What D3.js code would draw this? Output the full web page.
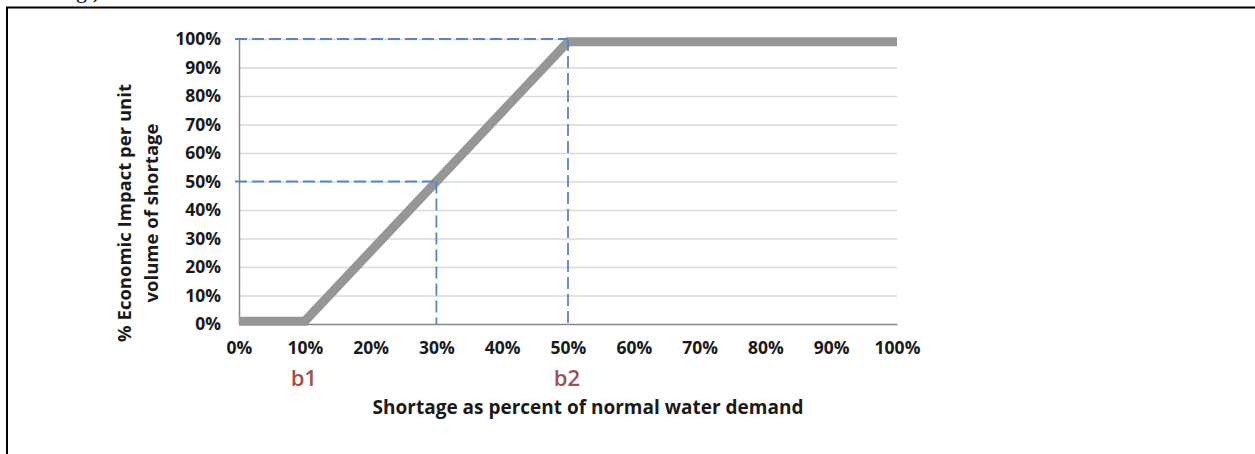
<!DOCTYPE html>
<html>
<head>
<meta charset="utf-8">
<script src="https://cdn.jsdelivr.net/npm/d3@7"></script>
<style>
  body { margin: 0; background: #fff; }
  .tick text { font-family: "Open Sans", sans-serif; font-weight: bold; font-size: 17.5px; fill: #1a1a1a; }
  .grid line { stroke: #d9d9d9; stroke-width: 1.5; }
  .grid path { display: none; }
</style>
</head>
<body>
<div id="chart"></div>
<script>
/* CONSTANTS */
const width = 1255,
  height = 454;

/* DATA */
const shortagePct = [0, 10, 50, 100];   // x of the impact curve
const impactPct = [1, 1, 99, 99];       // y of the impact curve
const xTicks = [0, 10, 20, 30, 40, 50, 60, 70, 80, 90, 100];
const yTicks = [0, 10, 20, 30, 40, 50, 60, 70, 80, 90, 100];
const breakNames = ["b1", "b2"];
const breakPct = [10, 50];
const guideX = [30, 50];   // dashed guide: shortage
const guideY = [50, 100];  // dashed guide: impact

const pct = d => d + "%";

/* SCALES */
const xScale = d3.scaleLinear().domain([0, 100]).range([239, 897]);
const yScale = d3.scaleLinear().domain([0, 100]).range([324, 39]);

const svg = d3.select("#chart")
  .append("svg")
  .attr("width", width)
  .attr("height", height);

// frame and the cut-off caption above it
svg.append("text")
  .attr("x", 76)
  .attr("y", -2)
  .attr("font-family", "Liberation Serif, serif")
  .attr("font-size", 22)
  .text("g )");

svg.append("rect")
  .attr("x", 7)
  .attr("y", 7.5)
  .attr("width", width + 20)
  .attr("height", height + 20)
  .attr("fill", "none")
  .attr("stroke", "#000")
  .attr("stroke-width", 2);

// gridlines
svg.append("g")
  .attr("class", "grid")
  .attr("transform", `translate(${xScale(0)},0)`)
  .call(d3.axisLeft(yScale)
    .tickValues(yTicks.slice(1))
    .tickSize(-(xScale(100) - xScale(0)))
    .tickFormat(""));

// axes
const xAxis = svg.append("g")
  .attr("transform", `translate(0,${yScale(0)})`)
  .call(d3.axisBottom(xScale).tickValues(xTicks).tickSize(0).tickPadding(18).tickFormat(pct));
xAxis.select(".domain").attr("stroke", "#868686").attr("stroke-width", 1.5);

const yAxis = svg.append("g")
  .attr("transform", `translate(${xScale(0)},0)`)
  .call(d3.axisLeft(yScale).tickValues(yTicks).tickSize(0).tickPadding(18).tickFormat(pct));
yAxis.select(".domain").attr("stroke", "#868686").attr("stroke-width", 1.5);

// impact curve
const curve = shortagePct.map((d, i) => [d, impactPct[i]]);
svg.append("path")
  .datum(curve)
  .attr("fill", "none")
  .attr("stroke", "#969696")
  .attr("stroke-width", 9)
  .attr("stroke-linejoin", "miter")
  .attr("d", d3.line().x(d => xScale(d[0])).y(d => yScale(d[1])));

// dashed guides: horizontal to the curve, then down to the axis
guideX.forEach((gx, i) => {
  const gy = guideY[i];
  const g = svg.append("g")
    .attr("stroke", "#5586c8")
    .attr("stroke-width", 1.8)
    .attr("stroke-dasharray", "12,5");
  g.append("line")
    .attr("x1", xScale(0) - 4).attr("x2", xScale(gx))
    .attr("y1", yScale(gy)).attr("y2", yScale(gy));
  g.append("line")
    .attr("x1", xScale(gx)).attr("x2", xScale(gx))
    .attr("y1", yScale(gy)).attr("y2", yScale(0));
});

// break point names
svg.selectAll(".brk")
  .data(breakPct)
  .join("text")
  .attr("class", "brk")
  .attr("x", d => xScale(d) - 1)
  .attr("y", 386)
  .attr("text-anchor", "middle")
  .attr("font-family", "Open Sans, sans-serif")
  .attr("font-weight", 600)
  .attr("font-size", 22)
  .attr("fill", "#a0504d")
  .text((d, i) => breakNames[i]);

// axis titles
svg.append("text")
  .attr("x", 588)
  .attr("y", 414)
  .attr("text-anchor", "middle")
  .attr("font-family", "Open Sans, sans-serif")
  .attr("font-weight", "bold")
  .attr("font-size", 19)
  .attr("fill", "#1a1a1a")
  .text("Shortage as percent of normal water demand");

const yTitle = svg.append("text")
  .attr("transform", "translate(131,213) rotate(-90)")
  .attr("text-anchor", "middle")
  .attr("font-family", "Open Sans, sans-serif")
  .attr("font-weight", "bold")
  .attr("font-size", 18.5)
  .attr("fill", "#1a1a1a");
yTitle.append("tspan").attr("x", 0).attr("dy", 0).text("% Economic Impact per unit");
yTitle.append("tspan").attr("x", 0).attr("dy", 27).text("volume of shortage");
</script>
</body>
</html>
